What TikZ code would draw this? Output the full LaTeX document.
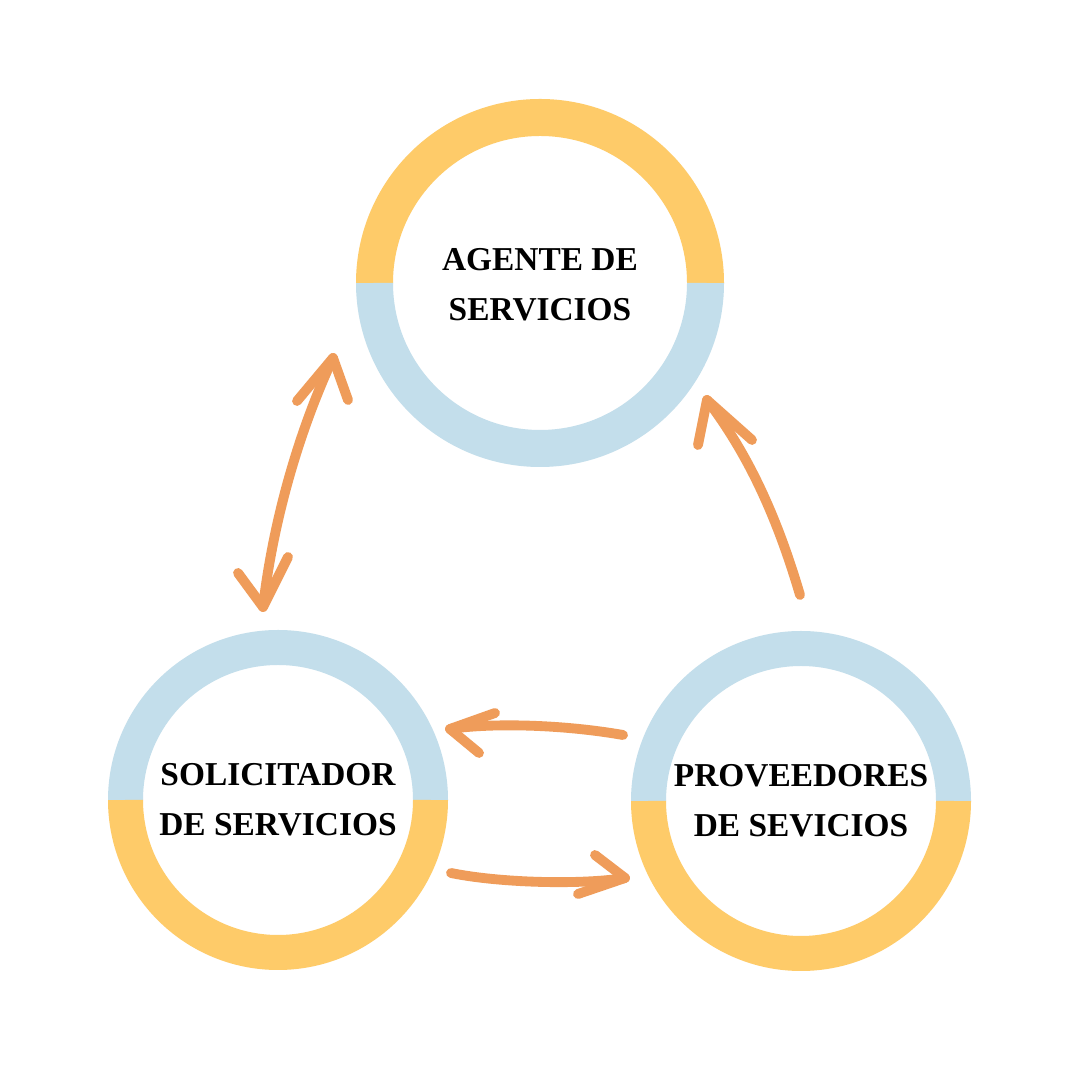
\documentclass[tikz,border=0pt]{standalone}
\usepackage{fontspec}
\setmainfont{Liberation Serif}
\usepackage{tikz}

\definecolor{ringyellow}{HTML}{FECB69}
\definecolor{ringblue}{HTML}{C3DEEB}
\definecolor{arroworange}{HTML}{EF9C5A}

\tikzset{
  role/.style={circle, align=center, font=\fontsize{9.5}{14.2}\selectfont\bfseries},
  sketch/.style={draw=arroworange, line width=2.8pt, line cap=round, line join=round}
}

\begin{document}
\begin{tikzpicture}
\useasboundingbox[fill=white] (0, 0) rectangle (10.8, 10.8);
\node[role, minimum size=3.68cm] (agente) at (5.40, 7.95) {AGENTE DE\\SERVICIOS};
\node[role, minimum size=3.40cm] (solicitador) at (2.78, 2.80) {SOLICITADOR\\DE SERVICIOS};
\node[role, minimum size=3.40cm] (proveedores) at (8.01, 2.79) {PROVEEDORES\\DE SEVICIOS};
\draw[ringyellow, line width=0.37cm] (5.40, 7.97) ++(0:1.655)
  arc[start angle=0, end angle=180, radius=1.655cm];
\draw[ringblue, line width=0.37cm] (5.40, 7.97) ++(180:1.655)
  arc[start angle=180, end angle=360, radius=1.655cm];
\foreach \ring in {solicitador, proveedores} {
  \draw[ringblue, line width=0.35cm] (\ring.center) ++(0:1.525)
    arc[start angle=0, end angle=180, radius=1.525cm];
  \draw[ringyellow, line width=0.35cm] (\ring.center) ++(180:1.525)
    arc[start angle=180, end angle=360, radius=1.525cm];
}
\coordinate (sa-low) at (2.63, 4.73);
\coordinate (sa-high) at (3.33, 7.22);
\coordinate (pa-low) at (8.00, 4.85);
\coordinate (pa-high) at (7.07, 6.80);
\coordinate (ps-right) at (6.23, 3.45);
\coordinate (ps-left) at (4.50, 3.51);
\coordinate (sp-left) at (4.51, 2.07);
\coordinate (sp-right) at (6.25, 2.02);
\draw[sketch] (sa-low) .. controls (2.72, 5.50) and (2.95, 6.40) .. (sa-high);
\draw[sketch] (2.97, 6.79) -- (sa-high) -- (3.48, 6.80);
\draw[sketch] (2.38, 5.07) -- (sa-low) -- (2.88, 5.23);
\draw[sketch] (pa-low) .. controls (7.75, 5.70) and (7.45, 6.30) .. (pa-high);
\draw[sketch] (6.98, 6.35) -- (pa-high) -- (7.52, 6.40);
\draw[sketch] (ps-right) .. controls (5.60, 3.56) and (4.90, 3.57) .. (ps-left);
\draw[sketch] (4.95, 3.67) -- (ps-left) -- (4.79, 3.27);
\draw[sketch] (sp-left) .. controls (5.00, 1.97) and (5.80, 1.95) .. (sp-right);
\draw[sketch] (5.95, 2.25) -- (sp-right) -- (5.78, 1.86);
\end{tikzpicture}
\end{document}
